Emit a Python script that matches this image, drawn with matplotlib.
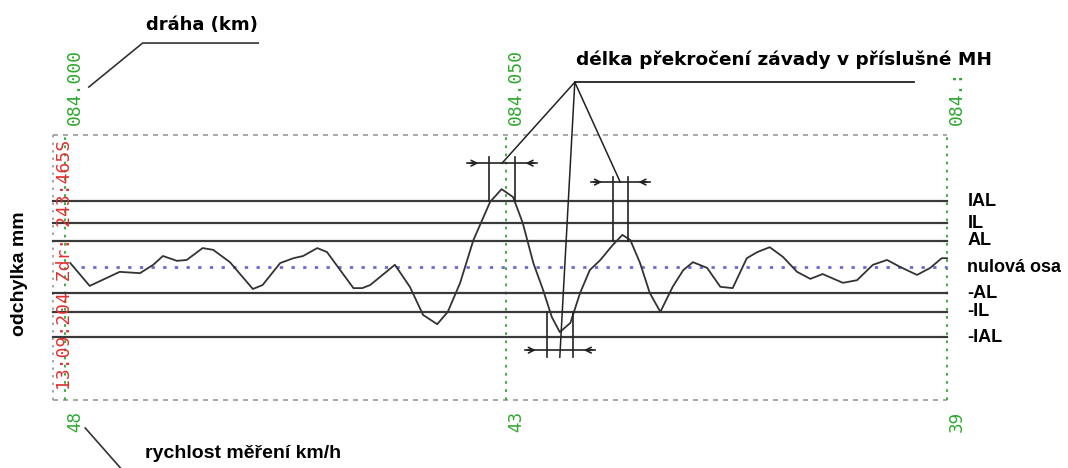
import matplotlib.pyplot as plt

# poloha v metrech od km 084.000, odchylka v mm
poloha = [0.6, 2.8, 6.2, 8.5, 10.0, 11.1, 12.7, 13.8, 15.6, 16.8, 18.7, 21.3, 22.4,
          24.4, 25.9, 27.0, 28.6, 29.7, 31.2, 32.7, 33.7, 34.6, 37.4, 39.1, 40.6,
          42.2, 43.4, 44.8, 46.3, 48.2, 49.5, 50.8, 51.9, 53.1, 54.2, 55.2, 56.1,
          57.3, 58.4, 59.5, 60.7, 62.1, 63.2, 64.1, 65.2, 66.3, 67.5, 68.9, 70.1,
          71.2, 72.8, 74.3, 75.7, 76.5, 77.3, 78.5, 79.9, 81.4, 83.0, 84.5, 85.9,
          88.2, 89.8, 91.6, 93.2, 94.7, 96.6, 98.1, 99.4, 100.0]
odchylka = [0.9, -4.3, -1.1, -1.4, 0.5, 2.5, 1.4, 1.6, 4.3, 3.9, 1.1, -5.0, -4.1,
            0.9, 2.0, 2.5, 4.3, 3.4, -0.7, -4.8, -4.8, -4.1, 0.5, -4.5, -10.9,
            -13.0, -10.2, -3.6, 6.1, 14.8, 17.7, 15.9, 10.0, 0.9, -5.2, -11.4, -14.8,
            -12.7, -5.9, -0.7, 1.6, 5.0, 7.3, 6.1, 0.9, -5.9, -10.2, -4.5, -0.7,
            1.1, -0.2, -4.5, -4.8, -1.4, 2.0, 3.4, 4.5, 2.3, -1.1, -2.7, -1.6,
            -3.6, -3.0, 0.5, 1.6, 0.0, -1.8, -0.2, 2.0, 2.0]

meze_nazvy = ["IAL", "IL", "AL", "-AL", "-IL", "-IAL"]
meze_hodnoty = [15, 10, 6, -6, -10.2, -16]

km_pozice = [0, 50, 100]
km_popisky = ["084.000", "084.050", "084.:"]
rychlosti = ["48", "43", "39"]

# useky prekroceni: zacatek, konec, mez
prekroceni_od = [48.1, 54.6, 62.1]
prekroceni_do = [51.0, 57.6, 63.8]
prekroceni_mez = [15, -10.2, 6]
# vyska kotovaci cary a konec svislic (mm)
kota_y = [23.6, -18.9, 19.3]
svisle_do = [25.0, -20.5, 20.5]

info = "13:09:204 Zdr: 243:465S"

zelena = '#2fa82f'
seda = '#999999'
cerna = '#222222'

fig = plt.figure(figsize=(10.68, 4.68), dpi=100)
ax = fig.add_axes([0, 0, 1, 1])
ax.set_xlim(-65 / 8.82, (1068 - 65) / 8.82)
ax.set_ylim(-(468 - 267) / 4.4, 267 / 4.4)
ax.axis('off')

x0, x1 = -1.36, 100
ax.plot([x0, x1], [30, 30], color=seda, lw=1.2, ls=(0, (3, 3)))
ax.plot([x0, x1], [-30.2, -30.2], color=seda, lw=1.2, ls=(0, (3, 3)))
ax.plot([x0, x0], [-30.2, 30], color=seda, lw=1.2, ls=(0, (1.5, 3)))

for x in km_pozice:
    ax.plot([x, x], [-30.2, 30.5 if x else 30], color=zelena, lw=1.3, ls=(0, (1.5, 3)))

for h in meze_hodnoty:
    ax.plot([x0, x1], [h, h], color='#3a3a3a', lw=1.6)
ax.plot([1.8, x1], [0, 0], color='#6b6bd0', lw=2, ls=(0, (1.2, 3)))

ax.plot(poloha, odchylka, color='#333333', lw=1.3)

for nazev, h in zip(meze_nazvy, meze_hodnoty):
    ax.text(102.3, h, nazev, ha='left', va='center', fontsize=13,
            fontweight='bold', family='Liberation Sans')
ax.text(102.3, 0, "nulová osa", ha='left', va='center', fontsize=13,
        fontweight='bold', family='Liberation Sans')

for x, km, v in zip(km_pozice, km_popisky, rychlosti):
    ax.text(x + 1.15, 32.3, km, rotation=90, ha='center', va='bottom',
            color=zelena, fontsize=13, family='DejaVu Sans Mono')
    ax.text(x + 1.15, -32.8, v, rotation=90, ha='center', va='top',
            color=zelena, fontsize=12)

ax.text(0, 0.4, info, rotation=90, ha='center', va='center', color='#e03030',
        fontsize=13, family='DejaVu Sans Mono')

ax.text(-5.2, -1.6, "odchylka mm", rotation=90, ha='center', va='center',
        fontsize=14, fontweight='bold', family='Liberation Sans')

# popisek draha
ax.text(15.5, 55.0, "dráha (km)", ha='center', va='center', fontsize=13,
        fontweight='bold')
ax.plot([2.7, 8.8, 21.9], [40.9, 50.9, 50.9], color='#333333', lw=1.2)

ax.text(9.1, -42.3, "rychlost měření km/h", ha='left', va='center', fontsize=14,
        fontweight='bold', family='Liberation Sans')
ax.plot([2.3, 6.3], [-36.6, -45.7], color='#333333', lw=1.2)

# kóty prekroceni
vrchol = (57.8, 42.0)
ax.plot([vrchol[0], 96.3], [vrchol[1], vrchol[1]], color=cerna, lw=1.3)
ax.text(57.9, 47.0, "délka překročení závady v příslušné MH", ha='left',
        va='center', fontsize=13.3, fontweight='bold')

for a, b, m, ky, kon in zip(prekroceni_od, prekroceni_do, prekroceni_mez,
                            kota_y, svisle_do):
    for x in (a, b):
        ax.plot([x, x], [m, kon], color=cerna, lw=1.2)
    ax.plot([a - 2.5, b + 2.5], [ky, ky], color=cerna, lw=1.2)
    ax.annotate('', xy=(a - 0.9, ky), xytext=(a - 2.5, ky),
                arrowprops=dict(arrowstyle='->', color=cerna, lw=1.2))
    ax.annotate('', xy=(b + 0.9, ky), xytext=(b + 2.5, ky),
                arrowprops=dict(arrowstyle='->', color=cerna, lw=1.2))
    stred = (a + b) / 2
    ax.plot([vrchol[0], stred], [vrchol[1], kon if m < 0 else ky],
            color=cerna, lw=1.1)

fig.savefig('out.png', dpi=100)
